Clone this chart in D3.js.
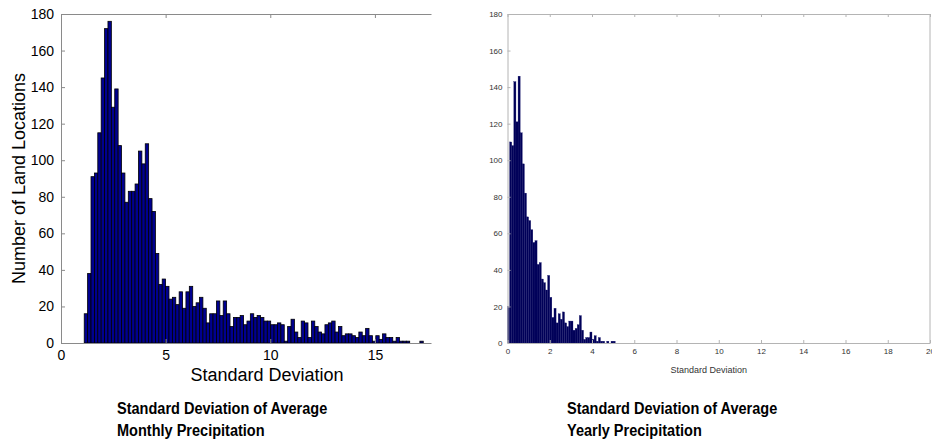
<!DOCTYPE html>
<html>
<head>
<meta charset="utf-8">
<script src="https://cdn.jsdelivr.net/npm/d3@7"></script>
<style>
  body { margin: 0; background: #fff; }
  svg { display: block; }
</style>
</head>
<body>
<div id="chart"></div>
<script>
const w = 932;
const h = 441;

// Monthly histogram: 100 bins starting at the smallest value
const monthlyCounts = [
  16, 38, 91, 93, 115, 145, 172, 176, 129, 139,
  108, 93, 77, 83, 83, 87, 105, 98, 109, 79,
  72, 49, 32, 35, 31, 24, 25, 21, 28, 19,
  28, 31, 20, 22, 25, 19, 11, 16, 16, 23,
  15, 23, 16, 9, 14, 14, 15, 10, 12, 16,
  14, 15, 14, 12, 12, 10, 10, 11, 10, 1,
  9, 13, 6, 3, 12, 11, 3, 12, 9, 6,
  5, 10, 11, 12, 6, 9, 4, 5, 5, 4,
  3, 6, 4, 8, 4, 1, 4, 2, 5, 3,
  3, 1, 3, 1, 1, 1, 0, 0, 0, 1
];
const monthlyBinStart = 1.11;
const monthlyBinWidth = 0.162;
const monthlyXMax = 17.68;
const monthlyXTicks = [0, 5, 10, 15];

// Yearly histogram
const yearlyCounts = [
  20, 110, 108, 143, 121, 146, 115, 98, 82, 69,
  67, 62, 55, 56, 43, 44, 35, 33, 29, 37,
  25, 14, 19, 11, 16, 13, 17, 11, 9, 12,
  12, 7, 8, 10, 15, 7, 2, 3, 3, 6,
  2, 4, 1, 3, 1, 1, 0, 1, 0, 1, 1
];
const yearlyBinStart = 0;
const yearlyBinWidth = 0.1;
const yearlyXMax = 20;
const yearlyXTicks = [0, 2, 4, 6, 8, 10, 12, 14, 16, 18, 20];

const yTicks = [0, 20, 40, 60, 80, 100, 120, 140, 160, 180];
const xTitle = 'Standard Deviation';
const yTitle = 'Number of Land Locations';
const captionLeft = ['Standard Deviation of Average', 'Monthly Precipitation'];
const captionRight = ['Standard Deviation of Average', 'Yearly Precipitation'];

const svg = d3.select('#chart')
  .append('svg')
  .attr('width', w)
  .attr('height', h);

function drawPanel(p) {
  const xScale = d3.scaleLinear().domain([0, p.xMax]).range([p.left, p.right]);
  const yScale = d3.scaleLinear().domain([0, 180]).range([p.bottom, p.top]);
  const g = svg.append('g');

  // bars
  g.append('g')
    .selectAll('rect')
    .data(p.counts)
    .enter()
    .append('rect')
    .attr('x', (d, i) => xScale(p.binStart + i * p.binWidth))
    .attr('y', d => yScale(d))
    .attr('width', (d, i) => xScale(p.binStart + (i + 1) * p.binWidth) - xScale(p.binStart + i * p.binWidth))
    .attr('height', d => yScale(0) - yScale(d))
    .attr('fill', p.fill)
    .attr('stroke', p.stroke)
    .attr('stroke-width', p.strokeW);

  // axes, ticks pointing in
  const xAxis = d3.axisBottom(xScale).tickValues(p.xTicks).tickSizeInner(-p.tick).tickSizeOuter(0).tickPadding(p.pad);
  const yAxis = d3.axisLeft(yScale).tickValues(yTicks).tickSizeInner(-p.tick).tickSizeOuter(0).tickPadding(p.pad);
  const xTop = d3.axisTop(xScale).tickValues(p.xTicks).tickSizeInner(-p.tick).tickSizeOuter(0).tickFormat('');

  const ax = g.append('g').attr('transform', `translate(0,${p.bottom})`).call(xAxis);
  const ay = g.append('g').attr('transform', `translate(${p.left},0)`).call(yAxis);
  const at = g.append('g').attr('transform', `translate(0,${p.top})`).call(xTop);
  [ax, ay, at].forEach(a => {
    a.selectAll('path, line').attr('stroke', p.axisColor);
    a.selectAll('text')
      .attr('fill', p.textColor)
      .style('font-family', 'Liberation Sans, Arial, sans-serif')
      .style('font-size', p.tickFont + 'px');
  });
  if (p.rightBorder) {
    g.append('line')
      .attr('x1', p.right).attr('x2', p.right)
      .attr('y1', p.top).attr('y2', p.bottom)
      .attr('stroke', p.axisColor);
  }

  // titles
  g.append('text')
    .attr('x', (p.left + p.right) / 2 + p.xTitleShift)
    .attr('y', p.xTitleY)
    .attr('text-anchor', 'middle')
    .attr('fill', p.textColor)
    .style('font-family', 'Liberation Sans, Arial, sans-serif')
    .style('font-size', p.titleFont + 'px')
    .text(xTitle);
  if (p.showYTitle) {
    g.append('text')
      .attr('transform', `translate(${p.yTitleX},${(p.top + p.bottom) / 2}) rotate(-90)`)
      .attr('text-anchor', 'middle')
      .attr('fill', p.textColor)
      .style('font-family', 'Liberation Sans, Arial, sans-serif')
      .style('font-size', p.titleFont + 'px')
      .text(yTitle);
  }

  // caption under the panel (narrow bold face, squeezed horizontally)
  p.caption.forEach((line, i) => {
    svg.append('text')
      .attr('transform', `translate(${p.captionX},${414 + i * 22}) scale(0.855,1)`)
      .style('font-family', 'Liberation Sans, Arial, sans-serif')
      .style('font-weight', 'bold')
      .style('font-size', '17px')
      .attr('fill', '#000')
      .text(line);
  });
}

drawPanel({
  counts: monthlyCounts, binStart: monthlyBinStart, binWidth: monthlyBinWidth,
  xMax: monthlyXMax, xTicks: monthlyXTicks,
  left: 61, right: 431, top: 14, bottom: 343,
  fill: '#00008f', stroke: '#000', strokeW: 0.8,
  axisColor: '#8a8a8a', textColor: '#000',
  tick: 4, pad: 7, tickFont: 14, titleFont: 18,
  xTitleY: 381, xTitleShift: 21, showYTitle: true, yTitleX: 25,
  rightBorder: false, caption: captionLeft, captionX: 117
});

drawPanel({
  counts: yearlyCounts, binStart: yearlyBinStart, binWidth: yearlyBinWidth,
  xMax: yearlyXMax, xTicks: yearlyXTicks,
  left: 507.5, right: 930, top: 14, bottom: 343,
  fill: '#000058', stroke: '#14146a', strokeW: 0.3,
  axisColor: '#b4b4b4', textColor: '#333',
  tick: 3, pad: 5, tickFont: 8, titleFont: 9,
  xTitleY: 373, xTitleShift: -10, showYTitle: false, yTitleX: 0,
  rightBorder: true, caption: captionRight, captionX: 567
});
</script>
</body>
</html>
